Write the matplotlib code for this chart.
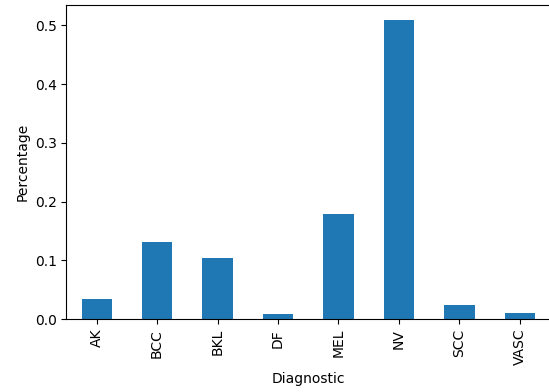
import matplotlib
matplotlib.use("Agg")
import matplotlib.pyplot as plt
import numpy as np

# class share of the diagnostic labels
labels = ["AK", "BCC", "BKL", "DF", "MEL", "NV", "SCC", "VASC"]
share = [0.0342, 0.1312, 0.1036, 0.0094, 0.1785, 0.5083, 0.0248, 0.0100]

fig, ax = plt.subplots(figsize=(5.49, 3.92), dpi=100)
fig.subplots_adjust(left=0.121, right=1.002, bottom=0.186, top=0.986)

x = np.arange(len(labels))
ax.bar(x, share, width=0.5, color="#1f77b4")
ax.set_xlim(-0.5, len(labels) - 0.5)
ax.set_xticks(x)
ax.set_xticklabels(labels, rotation=90)
ax.set_xlabel("Diagnostic", labelpad=5)
ax.set_ylabel("Percentage")

fig.savefig("out.png", dpi=100)
